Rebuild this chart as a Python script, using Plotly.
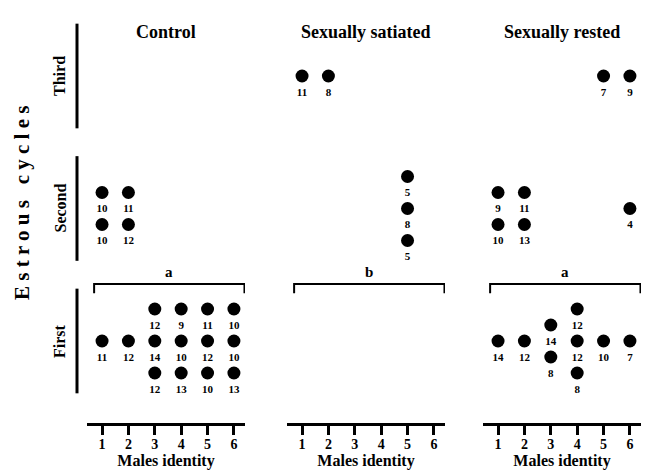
import plotly.graph_objects as go

# ---------------- data ----------------
groups = ["Control", "Sexually satiated", "Sexually rested"]
group_letters = ["a", "b", "a"]
cycle_names = ["First", "Second", "Third"]
male_ticks = [1, 2, 3, 4, 5, 6]

# each dot: male id, estrous cycle, stacking level within the row, count label
control_male  = [1, 2, 3, 3, 3, 4, 4, 4, 5, 5, 5, 6, 6, 6, 1, 1, 2, 2]
control_cycle = ["First"] * 14 + ["Second"] * 4
control_level = [0, 0, 1, 0, -1, 1, 0, -1, 1, 0, -1, 1, 0, -1, 0.5, -0.5, 0.5, -0.5]
control_count = [11, 12, 12, 14, 12, 9, 10, 13, 11, 12, 10, 10, 10, 13, 10, 10, 11, 12]

satiated_male  = [1, 2, 5, 5, 5]
satiated_cycle = ["Third", "Third", "Second", "Second", "Second"]
satiated_level = [0, 0, 1, 0, -1]
satiated_count = [11, 8, 5, 8, 5]

rested_male  = [5, 6, 1, 1, 2, 2, 6, 1, 2, 3, 3, 4, 4, 4, 5, 6]
rested_cycle = ["Third"] * 2 + ["Second"] * 5 + ["First"] * 9
rested_level = [0, 0, 0.5, -0.5, 0.5, -0.5, 0, 0, 0, 0.5, -0.5, 1, 0, -1, 0, 0]
rested_count = [7, 9, 9, 10, 11, 13, 4, 14, 12, 14, 8, 12, 12, 8, 10, 7]

series = [
    (control_male, control_cycle, control_level, control_count),
    (satiated_male, satiated_cycle, satiated_level, satiated_count),
    (rested_male, rested_cycle, rested_level, rested_count),
]

# ---------------- layout helpers ----------------
W, H = 646, 471
FONT = "Liberation Serif"
cycle_pos = {"First": 1, "Second": 2, "Third": 3}
DOT_STEP = 0.2415
LABEL_DROP = 0.127
Y_RANGE = [0.381, 3.4226]
Y_DOMAIN = [1 - 423 / H, 1 - 20 / H]
x_domains = [[87 / W, 245 / W], [287 / W, 445 / W], [483 / W, 641 / W]]
X_RANGE = [0.43, 6.42]

fig = go.Figure()
shapes = []
annotations = []

for i, (g, letter, (m, c, lv, cnt)) in enumerate(zip(groups, group_letters, series)):
    xa = "x" if i == 0 else f"x{i+1}"
    ya = "y" if i == 0 else f"y{i+1}"
    yv = [cycle_pos[cc] + l * DOT_STEP for cc, l in zip(c, lv)]
    fig.add_trace(go.Scatter(
        x=m, y=yv, xaxis=xa, yaxis=ya,
        mode="markers",
        marker=dict(size=13, color="black"),
        showlegend=False, hoverinfo="skip", cliponaxis=False,
    ))
    fig.add_trace(go.Scatter(
        x=m, y=[v - LABEL_DROP for v in yv], xaxis=xa, yaxis=ya,
        mode="text",
        text=[str(v) for v in cnt],
        textposition="middle center",
        textfont=dict(family=FONT, size=11, color="black", weight="bold"),
        showlegend=False, hoverinfo="skip", cliponaxis=False,
    ))
    key = "" if i == 0 else str(i + 1)
    fig.layout["xaxis" + key] = dict(
        domain=x_domains[i], range=X_RANGE, anchor=ya,
        tickmode="array", tickvals=male_ticks, ticktext=[str(t) for t in male_ticks],
        showline=True, linewidth=3, linecolor="black",
        ticks="outside", ticklen=9, tickwidth=3, tickcolor="black",
        tickfont=dict(family=FONT, size=14, color="black", weight="bold"),
        ticklabelstandoff=-3,
        showgrid=False, zeroline=False, fixedrange=True,
        title=dict(text="<b>Males identity</b>", standoff=2,
                   font=dict(family=FONT, size=16, color="black")),
    )
    fig.layout["yaxis" + key] = dict(
        domain=Y_DOMAIN, range=Y_RANGE, anchor=xa, visible=False, fixedrange=True,
    )
    # significance bracket over first cycle
    yb, yt = 1.36, 1.43
    shapes.append(dict(
        type="path", xref=xa, yref=ya,
        path=f"M 0.7 {yb} L 0.7 {yt} L 6.4 {yt} L 6.4 {yb}",
        line=dict(color="black", width=2),
    ))
    annotations.append(dict(
        x=3.55, y=1.52, xref=xa, yref=ya, text=f"<b>{letter}</b>", showarrow=False,
        font=dict(family=FONT, size=15, color="black"),
    ))
    # column title
    annotations.append(dict(
        x=0.5, y=1 - 20 / H, xref=f"{xa} domain", yref="paper", text=f"<b>{g}</b>",
        showarrow=False, font=dict(family=FONT, size=18, color="black"),
    ))

# row segments and row labels
for cname in cycle_names:
    yc = cycle_pos[cname]
    shapes.append(dict(
        type="line", xref="paper", yref="y", x0=77 / W, x1=77 / W,
        y0=yc - 0.395, y1=yc + 0.395, line=dict(color="black", width=3),
    ))
    annotations.append(dict(
        x=60 / W, y=yc, xref="paper", yref="y", text=f"<b>{cname}</b>",
        xanchor="center", yanchor="middle",
        textangle=-90, showarrow=False, font=dict(family=FONT, size=16, color="black"),
    ))

annotations.append(dict(
    x=22 / W, y=1 - 203 / H, xref="paper", yref="paper",
    xanchor="center", yanchor="middle",
    text="<b>E s t r o u s   c y c l e s</b>", textangle=-90, showarrow=False,
    font=dict(family=FONT, size=21, color="black"),
))

fig.update_layout(
    width=W, height=H,
    margin=dict(l=0, r=0, t=0, b=0),
    paper_bgcolor="white", plot_bgcolor="white",
    shapes=shapes, annotations=annotations,
    font=dict(family=FONT, color="black"),
)

fig.write_html("out.html")
